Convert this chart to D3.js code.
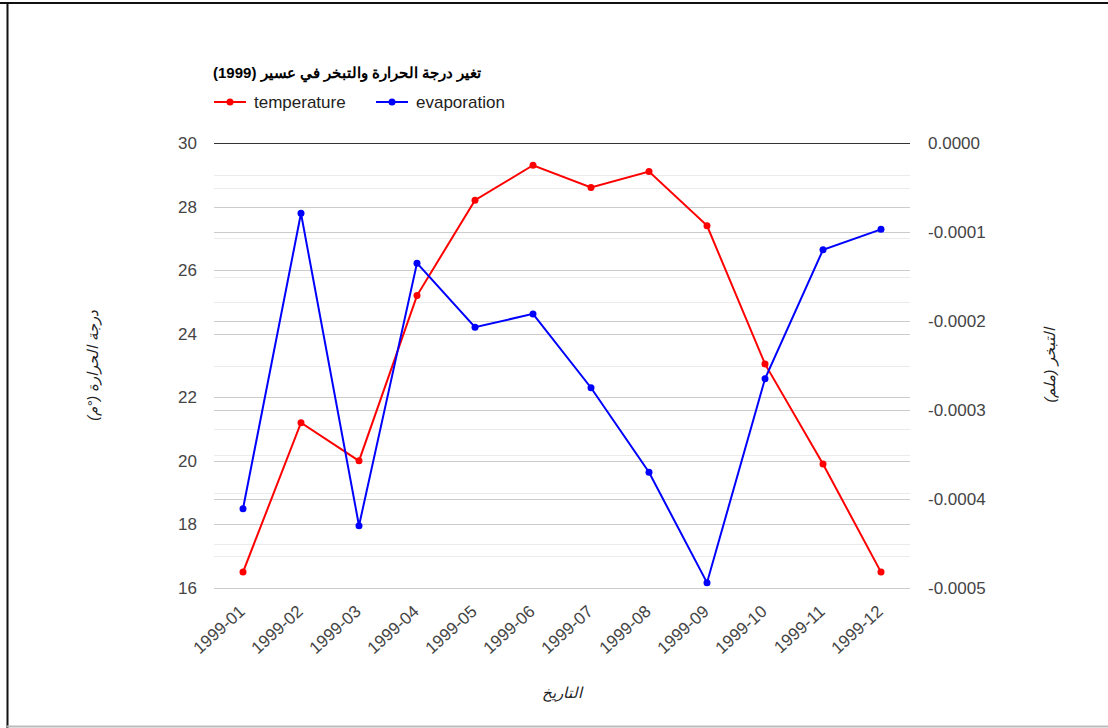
<!DOCTYPE html>
<html>
  <head>
    <title>Temperature and Evaporation</title>
    <meta charset="utf-8">
    <style>
      body {
        margin: 0;
        background-color: white;
      }
      svg text {
        font-family: "Liberation Sans", Arial, sans-serif;
      }
    </style>
  </head>
  <body>
  <svg class="chart"></svg>
  <script src="https://d3js.org/d3.v7.min.js"></script>
  <script>
    // chart data
    var months = ["1999-01", "1999-02", "1999-03", "1999-04", "1999-05", "1999-06",
                  "1999-07", "1999-08", "1999-09", "1999-10", "1999-11", "1999-12"];
    var temperature = [16.5, 21.2, 20.0, 25.2, 28.2, 29.3, 28.6, 29.1, 27.4, 23.05, 19.9, 16.5];
    var evaporation = [-0.000411, -0.000079, -0.000430, -0.000135, -0.000207, -0.000192,
                       -0.000275, -0.000370, -0.000494, -0.000265, -0.000120, -0.000097];
    var leftTicks = [16, 18, 20, 22, 24, 26, 28, 30];
    var rightTicks = [-0.0005, -0.0004, -0.0003, -0.0002, -0.0001, 0];

    var titleText = "تغير درجة الحرارة والتبخر في عسير (1999)";
    var leftTitle = "درجة الحرارة (°م)";
    var rightTitle = "التبخر (ملم)";
    var xTitle = "التاريخ";

    var W = 1108, H = 728;
    var plot = {left: 214, right: 910, top: 143, bottom: 588};

    var svg = d3.select("svg")
      .attr("width", W)
      .attr("height", H);

    // frame around the screenshot
    svg.append("line").attr("x1", 0).attr("x2", W).attr("y1", 3).attr("y2", 3)
      .attr("stroke", "#111").attr("stroke-width", 2);
    svg.append("line").attr("x1", 7.5).attr("x2", 7.5).attr("y1", 2).attr("y2", H)
      .attr("stroke", "#111").attr("stroke-width", 2);
    svg.append("line").attr("x1", 7).attr("x2", W).attr("y1", 726.5).attr("y2", 726.5)
      .attr("stroke", "#bbb").attr("stroke-width", 2);

    // scales
    var x = d3.scaleBand()
      .domain(months)
      .range([plot.left, plot.right]);
    var cx = function(d) { return x(d) + x.bandwidth() / 2; };

    var yL = d3.scaleLinear()
      .domain([16, 30])
      .range([plot.bottom, plot.top]);

    var yR = d3.scaleLinear()
      .domain([-0.0005, 0])
      .range([plot.bottom, plot.top]);

    // gridlines (minor first, then major)
    var minorL = d3.range(17, 30, 2);
    var minorR = d3.range(0, 5).map(function(i) { return -0.00005 - i * 0.0001; });
    var grid = svg.append("g").attr("class", "grid");

    grid.selectAll("line.minorL").data(minorL).enter().append("line")
      .attr("x1", plot.left).attr("x2", plot.right)
      .attr("y1", function(d) { return Math.round(yL(d)) + 0.5; })
      .attr("y2", function(d) { return Math.round(yL(d)) + 0.5; })
      .attr("stroke", "#ebebeb");
    grid.selectAll("line.minorR").data(minorR).enter().append("line")
      .attr("x1", plot.left).attr("x2", plot.right)
      .attr("y1", function(d) { return Math.round(yR(d)) + 0.5; })
      .attr("y2", function(d) { return Math.round(yR(d)) + 0.5; })
      .attr("stroke", "#ebebeb");
    grid.selectAll("line.majorR").data(rightTicks.slice(0, -1)).enter().append("line")
      .attr("x1", plot.left).attr("x2", plot.right)
      .attr("y1", function(d) { return Math.round(yR(d)) + 0.5; })
      .attr("y2", function(d) { return Math.round(yR(d)) + 0.5; })
      .attr("stroke", "#cccccc");
    grid.selectAll("line.majorL").data(leftTicks.slice(0, -1)).enter().append("line")
      .attr("x1", plot.left).attr("x2", plot.right)
      .attr("y1", function(d) { return Math.round(yL(d)) + 0.5; })
      .attr("y2", function(d) { return Math.round(yL(d)) + 0.5; })
      .attr("stroke", "#cccccc");
    // baseline at top (zero of right axis)
    grid.append("line")
      .attr("x1", plot.left).attr("x2", plot.right)
      .attr("y1", Math.round(yR(0)) + 0.5).attr("y2", Math.round(yR(0)) + 0.5)
      .attr("stroke", "#333");

    // left axis
    var leftAxis = svg.append("g")
      .attr("transform", "translate(" + (plot.left - 17) + ",0)")
      .call(d3.axisLeft(yL).tickValues(leftTicks).tickSize(0).tickPadding(0));
    leftAxis.select(".domain").remove();
    leftAxis.selectAll("text")
      .style("font-size", "17px")
      .attr("fill", "#444");

    // right axis
    var fmt = d3.formatLocale({decimal: ".", thousands: ",", grouping: [3], currency: ["", ""], minus: "-"}).format(".4f");
    var rightAxis = svg.append("g")
      .attr("transform", "translate(" + (plot.right + 18) + ",0)")
      .call(d3.axisRight(yR).tickValues(rightTicks).tickFormat(fmt).tickSize(0).tickPadding(0));
    rightAxis.select(".domain").remove();
    rightAxis.selectAll("text")
      .style("font-size", "17px")
      .attr("fill", "#444");

    // x labels, slanted
    svg.append("g").selectAll("text")
      .data(months)
      .enter().append("text")
      .attr("transform", function(d) { return "translate(" + (cx(d) + 3) + ",613) rotate(-42)"; })
      .attr("text-anchor", "end")
      .style("font-size", "17px")
      .attr("fill", "#444")
      .text(function(d) { return d; });

    // lines
    var tempLine = d3.line()
      .x(function(d, i) { return cx(months[i]); })
      .y(function(d) { return yL(d); });
    var evapLine = d3.line()
      .x(function(d, i) { return cx(months[i]); })
      .y(function(d) { return yR(d); });

    svg.append("path").datum(temperature)
      .attr("d", tempLine)
      .attr("fill", "none").attr("stroke", "#ff0000").attr("stroke-width", 2);
    svg.append("path").datum(evaporation)
      .attr("d", evapLine)
      .attr("fill", "none").attr("stroke", "#0000ff").attr("stroke-width", 2);

    svg.append("g").selectAll("circle")
      .data(temperature)
      .enter().append("circle")
      .attr("cx", function(d, i) { return cx(months[i]); })
      .attr("cy", function(d) { return yL(d); })
      .attr("r", 3.5)
      .attr("fill", "#ff0000");
    svg.append("g").selectAll("circle")
      .data(evaporation)
      .enter().append("circle")
      .attr("cx", function(d, i) { return cx(months[i]); })
      .attr("cy", function(d) { return yR(d); })
      .attr("r", 3.5)
      .attr("fill", "#0000ff");

    // title
    svg.append("text")
      .attr("x", 213).attr("y", 78)
      .attr("direction", "rtl")
      .attr("text-anchor", "end")
      .style("font-size", "15px")
      .style("font-weight", "bold")
      .attr("fill", "#000")
      .text(titleText);

    // legend
    var legend = [
      {name: "temperature", color: "#ff0000", x: 214},
      {name: "evaporation", color: "#0000ff", x: 376}
    ];
    var lg = svg.append("g").selectAll("g")
      .data(legend)
      .enter().append("g")
      .attr("transform", function(d) { return "translate(" + d.x + ",102)"; });
    lg.append("line")
      .attr("x1", 0).attr("x2", 32).attr("y1", 0).attr("y2", 0)
      .attr("stroke", function(d) { return d.color; }).attr("stroke-width", 2);
    lg.append("circle")
      .attr("cx", 16).attr("cy", 0).attr("r", 3.5)
      .attr("fill", function(d) { return d.color; });
    lg.append("text")
      .attr("x", 40).attr("y", 6)
      .style("font-size", "17px")
      .attr("fill", "#222")
      .text(function(d) { return d.name; });

    // axis titles
    svg.append("text")
      .attr("transform", "translate(98," + ((plot.top + plot.bottom) / 2) + ") rotate(-90)")
      .attr("text-anchor", "middle")
      .style("font-size", "15px")
      .style("font-style", "italic")
      .attr("fill", "#222")
      .text(leftTitle);
    svg.append("text")
      .attr("transform", "translate(1055," + ((plot.top + plot.bottom) / 2) + ") rotate(-90)")
      .attr("text-anchor", "middle")
      .style("font-size", "15px")
      .style("font-style", "italic")
      .attr("fill", "#222")
      .text(rightTitle);
    svg.append("text")
      .attr("x", (plot.left + plot.right) / 2).attr("y", 698)
      .attr("text-anchor", "middle")
      .style("font-size", "15px")
      .style("font-style", "italic")
      .attr("fill", "#222")
      .text(xTitle);
  </script>
  </body>
</html>
